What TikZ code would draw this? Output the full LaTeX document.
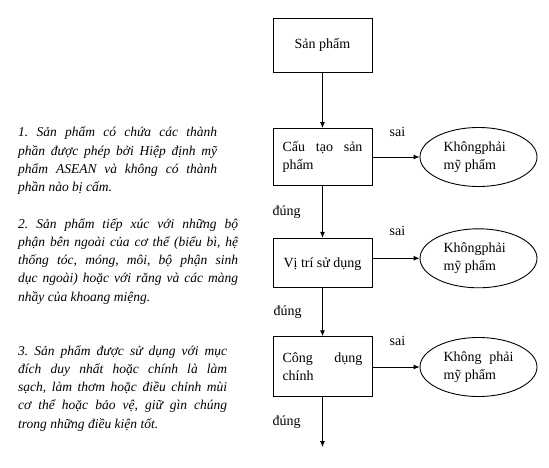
\documentclass[tikz,border=0pt]{standalone}
\usepackage{fontspec}
\setmainfont{Liberation Serif}
\usetikzlibrary{arrows.meta,shapes.geometric}
\frenchspacing
\begin{document}
\begin{tikzpicture}[x=1pt,y=-1pt,
  box/.style={draw,line width=0.9pt,minimum width=99pt,inner sep=0pt,font=\fontsize{14}{18}\selectfont},
  oval/.style={draw,ellipse,line width=0.9pt,minimum width=117pt,minimum height=59pt,inner sep=0pt,text width=70pt,align=justify,font=\fontsize{14}{18.5}\selectfont},
  arr/.style={line width=0.9pt,-{Latex[length=6pt,width=5pt]}},
  lbl/.style={font=\fontsize{14}{16}\selectfont,inner sep=0pt},
  note/.style={anchor=base west,inner sep=0pt,align=justify,font=\fontsize{13.5}{18.3}\selectfont\itshape}]
\useasboundingbox (0,0) rectangle (549,468);

% flow boxes
\node[box,minimum height=54pt] (b1) at (322.5,45.3) {Sản phẩm};
\node[box,minimum height=57pt,text width=80pt,align=justify] (b2) at (322.5,157) {Cấu tạo sản\linebreak phẩm};
\node[box,minimum height=49pt,text depth=0pt] (b3) at (322.5,262.8) {Vị trí sử dụng};
\node[box,minimum height=60pt,text width=80pt,align=justify] (b4) at (322.5,366.7) {Công dụng\linebreak chính};
\coordinate (end) at (322.5,447);

% ovals
\node[oval] (e1) at (478.5,157) {Khôngphải\newline mỹ phẩm};
\node[oval] (e2) at (478.5,258.3) {Khôngphải\newline mỹ phẩm};
\node[oval] (e3) at (478.5,367) {Không phải\linebreak mỹ phẩm};

% arrows
\draw[arr] (b1.south) -- (b2.north);
\draw[arr] (b2.south) -- (b3.north);
\draw[arr] (b3.south) -- (b4.north);
\draw[arr] (b4.south) -- (end);
\draw[arr] (b2.east |- e1.west) -- (e1.west);
\draw[arr] (b3.east |- e2.west) -- (e2.west);
\draw[arr] (b4.east |- e3.west) -- (e3.west);

% labels
\node[lbl] (s1) at (397.5,132) {sai};
\node[lbl] (s2) at (397.5,231) {sai};
\node[lbl] (s3) at (397.5,341) {sai};
\node[lbl] (d1) at (286.5,212) {đúng};
\node[lbl] (d2) at (287.5,312) {đúng};
\node[lbl] (d3) at (286.5,422) {đúng};

% notes
\node[note,text width=199pt] (n1) at (18,137) {1. Sản phẩm có chứa các thành\linebreak phần được phép bởi Hiệp định mỹ\linebreak phẩm ASEAN và không có thành\linebreak phần nào bị cấm.};
\node[note,text width=220pt] (n2) at (18,228) {2. Sản phẩm tiếp xúc với những bộ\linebreak phận bên ngoài của cơ thể (biểu bì, hệ\linebreak thống tóc, móng, môi, bộ phận sinh\linebreak dục ngoài) hoặc với răng và các màng\linebreak nhầy của khoang miệng.};
\node[note,text width=209pt] (n3) at (18,355) {3. Sản phẩm được sử dụng với mục\linebreak đích duy nhất hoặc chính là làm\linebreak sạch, làm thơm hoặc điều chỉnh mùi\linebreak cơ thể hoặc bảo vệ, giữ gìn chúng\linebreak trong những điều kiện tốt.};
\end{tikzpicture}
\end{document}
